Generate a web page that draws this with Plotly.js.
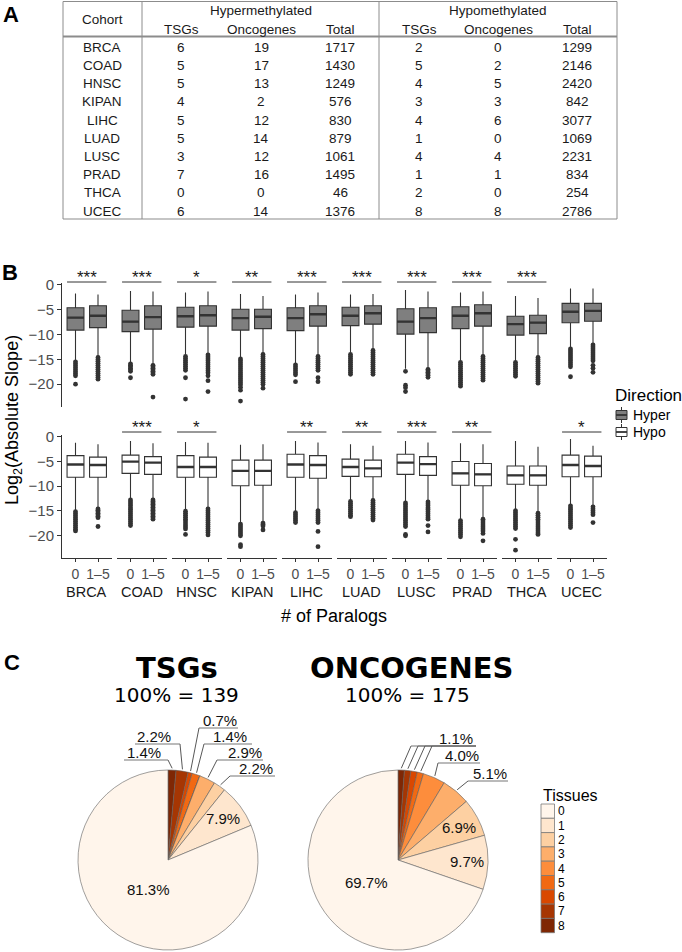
<!DOCTYPE html>
<html><head><meta charset="utf-8">
<script src="https://cdn.plot.ly/plotly-3.0.1.min.js"></script>
<style>body{margin:0;background:#fff}#chart{width:682px;height:952px}</style>
</head><body><div id="chart"></div>
<script>
// ---------- Panel A: table data ----------
const cohorts = ['BRCA','COAD','HNSC','KIPAN','LIHC','LUAD','LUSC','PRAD','THCA','UCEC'];
const hyperTSGs = [6,5,5,4,5,5,3,7,0,6];
const hyperOncogenes = [19,17,13,2,12,14,12,16,0,14];
const hyperTotal = [1717,1430,1249,576,830,879,1061,1495,46,1376];
const hypoTSGs = [2,5,4,3,4,1,4,1,2,8];
const hypoOncogenes = [0,2,5,3,6,0,4,1,0,8];
const hypoTotal = [1299,2146,2420,842,3077,1069,2231,834,254,2786];

// ---------- Panel B: boxplot statistics (log2 absolute slope) ----------
const groupLabels = ['0','1–5'];
const hyper0Upper  = [-1.7,-1.2,-1.5,-1.8,-1.9,-1.9,-1.0,-1.5,-2.2,-0.7];
const hyper0Q3     = [-4.6,-5.1,-4.5,-4.9,-4.6,-4.5,-4.8,-4.4,-6.3,-3.7];
const hyper0Median = [-6.6,-7.4,-6.3,-6.7,-6.7,-6.2,-7.4,-6.2,-7.9,-5.4];
const hyper0Q1     = [-9.1,-9.4,-8.5,-9.1,-9.2,-8.2,-9.9,-8.8,-10.1,-7.6];
const hyper0Lower  = [-15.2,-15.6,-14.0,-14.7,-15.8,-13.6,-16.9,-15.4,-15.4,-12.7];
const hyper15Upper  = [-1.9,-1.3,-1.3,-2.2,-1.5,-1.8,-1.3,-1.3,-2.6,-0.7];
const hyper15Q3     = [-4.2,-4.2,-4.2,-4.9,-4.2,-4.2,-4.6,-4.0,-6.1,-3.7];
const hyper15Median = [-6.2,-6.5,-6.1,-6.4,-5.9,-5.7,-6.7,-5.7,-7.6,-5.2];
const hyper15Q1     = [-8.6,-8.9,-8.3,-8.8,-8.3,-7.9,-9.6,-8.3,-9.8,-7.3];
const hyper15Lower  = [-14.4,-16.0,-13.8,-13.8,-14.1,-12.9,-16.8,-14.1,-14.3,-11.8];
const hypo0Upper  = [-1.2,-0.8,-1.0,-1.6,-0.8,-1.5,-0.8,-1.3,-0.8,-0.4];
const hypo0Q3     = [-3.8,-3.7,-3.8,-4.7,-3.5,-4.5,-3.5,-5.0,-5.9,-3.7];
const hypo0Median = [-5.6,-5.0,-6.1,-6.9,-5.6,-6.1,-5.2,-7.4,-7.8,-5.7];
const hypo0Q1     = [-8.2,-7.4,-8.2,-9.9,-8.2,-8.0,-7.6,-9.8,-9.6,-8.1];
const hypo0Lower  = [-14.9,-12.5,-14.9,-17.4,-15.2,-12.9,-13.2,-16.7,-14.7,-13.7];
const hypo15Upper  = [-1.5,-1.3,-1.2,-1.5,-1.1,-1.8,-1.1,-1.5,-2.0,-1.8];
const hypo15Q3     = [-4.1,-4.0,-4.1,-4.7,-3.8,-4.7,-4.0,-5.4,-5.9,-3.9];
const hypo15Median = [-5.7,-5.2,-6.1,-6.9,-5.7,-6.4,-5.5,-7.6,-7.8,-5.9];
const hypo15Q1     = [-8.2,-7.6,-8.2,-9.8,-8.4,-8.1,-7.8,-9.9,-9.8,-8.1];
const hypo15Lower  = [-14.4,-12.5,-14.4,-17.4,-14.9,-12.7,-13.0,-16.5,-15.2,-13.9];

const hyper0Outliers = [
  [-15.5,-15.9,-16.3,-16.7,-17.1,-17.5,-17.9,-18.3,-20.0],
  [-15.9,-16.2,-16.5,-16.8,-17.1,-17.4,-18.7],
  [-14.4,-14.8,-15.2,-15.6,-16.0,-16.4,-16.8,-17.2,-18.7,-23.0],
  [-14.9,-15.3,-15.7,-16.1,-16.5,-16.9,-17.3,-17.7,-18.1,-18.5,-18.9,-19.3,-19.7,-20.1,-20.6,-21.2,-23.4],
  [-16.1,-16.5,-16.9,-17.3,-17.7,-18.1,-19.5],
  [-14.0,-14.4,-14.8,-15.2,-15.6,-16.0,-16.4,-16.8,-17.2,-17.6,-18.0],
  [-17.4,-20.2,-20.7,-21.5],
  [-15.6,-16.0,-16.4,-16.8,-17.2,-17.6,-18.0,-18.4,-18.8,-19.2,-19.6,-20.0,-20.4],
  [-15.6,-16.0,-16.4,-16.8,-17.2,-17.6,-18.0,-18.4],
  [-12.9,-13.3,-13.7,-14.1,-14.5,-14.9,-15.3,-15.7,-16.1,-16.5,-18.5]
];
const hyper15Outliers = [
  [-14.6,-15.0,-15.4,-15.8,-16.2,-16.6,-17.0,-17.4,-17.8,-18.2,-18.6,-19.0],
  [-16.2,-16.5,-16.8,-17.1,-17.4,-17.7,-18.0,-22.6],
  [-14.1,-14.5,-14.9,-15.3,-15.7,-16.1,-16.5,-16.9,-17.3,-17.7,-18.3,-19.3,-21.5],
  [-14.0,-14.4,-14.8,-15.2,-15.6,-16.0,-16.4,-16.8,-17.2,-17.6,-18.0,-18.4,-18.8,-19.2,-19.6,-20.0,-20.8],
  [-14.4,-14.8,-15.2,-15.6,-16.0,-16.4,-16.8,-17.2,-18.7,-19.5],
  [-13.2,-13.6,-14.0,-14.4,-14.8,-15.2,-15.6,-16.0,-16.4,-16.8,-17.2,-17.6,-18.0],
  [-17.0,-17.3,-17.6,-17.9,-18.2,-18.6],
  [-14.4,-14.8,-15.2,-15.6,-16.0,-16.4,-16.8,-17.2,-17.6,-18.0,-18.4,-18.8,-19.2],
  [-14.6,-15.0,-15.4,-15.8,-16.2,-16.6,-17.0,-17.4,-17.8,-18.2,-18.6,-19.0,-19.4,-19.8],
  [-12.1,-12.5,-12.9,-13.3,-13.7,-14.1,-14.5,-14.9,-15.3,-16.2,-16.8,-17.6]
];
const hypo0Outliers = [
  [-15.2,-15.6,-16.0,-16.4,-16.8,-17.2,-17.6,-18.0,-18.4,-18.8,-19.1],
  [-12.8,-13.2,-13.6,-14.0,-14.4,-14.8,-15.2,-15.6,-16.0,-16.4,-16.8,-17.2,-17.6,-18.0],
  [-15.1,-15.5,-15.9,-16.3,-16.7,-17.1,-17.5,-17.9,-18.3,-18.7,-19.8],
  [-17.7,-18.1,-18.5,-18.9,-19.3,-19.7,-20.1,-21.9,-22.3],
  [-15.4,-15.8,-16.2,-16.6,-17.0,-17.4],
  [-13.1,-13.5,-13.9,-14.3,-14.7,-15.1,-15.5,-15.9,-16.2],
  [-13.4,-13.8,-14.2,-14.6,-15.0,-15.4,-15.8,-16.2,-16.6,-17.0,-17.4,-17.8,-18.2,-19.8,-20.1],
  [-17.0,-17.4,-17.8,-18.2,-18.6,-19.0,-19.4,-19.8,-20.3],
  [-15.0,-15.4,-15.8,-16.2,-16.6,-17.0,-17.4,-17.8,-18.2,-18.6,-20.8,-23.0],
  [-14.0,-14.4,-14.8,-15.2,-15.6,-16.0,-16.4,-16.8,-17.2,-17.6,-18.0,-18.4]
];
const hypo15Outliers = [
  [-14.6,-14.9,-15.2,-15.5,-15.8,-16.1,-16.4,-18.2],
  [-12.8,-13.1,-13.4,-13.7,-14.0,-14.3,-14.6,-14.9,-15.2,-15.5,-15.8,-16.1,-16.4,-16.7],
  [-14.6,-15.0,-15.4,-15.8,-16.2,-16.6,-17.0,-17.4,-17.8,-18.2,-18.6,-19.0,-19.4,-19.9],
  [-17.5,-17.8,-18.1,-18.9],
  [-15.0,-15.4,-15.8,-16.2,-16.6,-17.0,-17.4,-19.2,-22.3],
  [-12.9,-13.3,-13.7,-14.1,-14.5,-14.9,-15.3,-15.7,-16.1,-16.5,-16.9],
  [-13.2,-13.6,-14.0,-14.4,-14.8,-15.2,-15.6,-16.0,-16.4,-16.7,-18.0,-19.3],
  [-16.7,-17.1,-17.5,-17.9,-18.3,-18.7,-19.1,-19.6,-21.1],
  [-15.5,-15.9,-16.3,-16.7,-17.1,-17.5,-17.9,-18.3,-18.7,-19.1,-19.5,-19.8],
  [-14.2,-14.6,-15.0,-15.4,-15.8,-17.4]
];
const hyperSig = ['***','***','*','**','***','***','***','***','***',''];
const hypoSig  = ['','***','*','','**','**','***','**','','*'];
const yTickVals = [0,-5,-10,-15,-20];
const yTickText = ['0','−5','−10','−15','−20'];

// ---------- Panel C: pie data ----------
const tissueLevels = ['0','1','2','3','4','5','6','7','8'];
const tissueColors = ['#FFF5EB','#FEE6CE','#FDD0A2','#FDAE6B','#FD8D3C','#F16913','#D94801','#A63603','#7F2704'];
const tsgCounts = [113,11,3,4,0,2,1,3,2];
const oncCounts = [122,17,12,9,7,2,2,2,2];

// ---------- helpers ----------
const W = 682, H = 952;
const X = p => p / W, Y = p => 1 - p / H;
const FONT = 'Liberation Sans, Arial, Helvetica, sans-serif';
const DJ = 'DejaVu Sans, Verdana, sans-serif';
const traces = [];
const annotations = [];
const shapes = [];
const layout = {
  width: W, height: H, margin: {l:0, r:0, t:0, b:0},
  paper_bgcolor: '#ffffff', plot_bgcolor: 'rgba(0,0,0,0)',
  showlegend: false, font: {family: FONT, color: '#1a1a1a'},
  annotations, shapes
};
function txt(t, x, y, size, opts) {
  annotations.push(Object.assign({text: t, x: X(x), y: Y(y), xref: 'paper', yref: 'paper',
    showarrow: false, xanchor: 'center', yanchor: 'middle',
    font: {family: FONT, size: size, color: '#1a1a1a'}}, opts || {}));
}
function line(x0, y0, x1, y1, color, width) {
  shapes.push({type: 'line', xref: 'paper', yref: 'paper', x0: X(x0), y0: Y(y0), x1: X(x1), y1: Y(y1),
    line: {color: color, width: width}});
}
function rect(x0, y0, x1, y1, fill, color, width) {
  shapes.push({type: 'rect', xref: 'paper', yref: 'paper', x0: X(x0), y0: Y(y0), x1: X(x1), y1: Y(y1),
    fillcolor: fill, line: {color: color, width: width}});
}

// ---------- Panel A ----------
txt('<b>A</b>', 11, 0, 22, {yanchor: 'top', font: {family: FONT, size: 22, color: '#000'}});
const tb = {left: 63, c1: 142, c2: 379, right: 617, top: 1.5, head: 36.5, bottom: 219};
const tLine = '#8c8c8c';
line(tb.left, tb.top, tb.right, tb.top, tLine, 1);
line(tb.left, tb.head, tb.right, tb.head, tLine, 1.8);
line(tb.left, tb.bottom, tb.right, tb.bottom, tLine, 1.2);
[tb.left, tb.c1, tb.c2, tb.right].forEach(x => line(x, tb.top, x, tb.bottom, tLine, 1));
const tFont = 13.5;
txt('Cohort', 102, 19, tFont);
txt('Hypermethylated', 261, 10.5, tFont);
txt('Hypomethylated', 498, 10.5, tFont);
const colX = [181, 261, 340, 419, 498, 577];
['TSGs','Oncogenes','Total','TSGs','Oncogenes','Total'].forEach((h, i) => txt(h, colX[i], 29, tFont));
const tableCols = [hyperTSGs, hyperOncogenes, hyperTotal, hypoTSGs, hypoOncogenes, hypoTotal];
cohorts.forEach((c, r) => {
  const y = 47 + 18.25 * r;
  txt(c, 102, y, tFont);
  tableCols.forEach((col, i) => txt(String(col[r]), colX[i], y, tFont));
});

// ---------- Panel B ----------
txt('<b>B</b>', 10, 272, 22, {font: {family: FONT, size: 22, color: '#000'}});
const colLeft = 62, colPitch = 55, colWidth = 49.5;
const rowsPx = [{top: 283, bottom: 407, starY: 277, barY: 282}, {top: 435, bottom: 558, starY: 428, barY: 432}];
const directions = [
  {fill: '#7f7f7f', sig: hyperSig, groups: [
    [hyper0Lower, hyper0Q1, hyper0Median, hyper0Q3, hyper0Upper, hyper0Outliers],
    [hyper15Lower, hyper15Q1, hyper15Median, hyper15Q3, hyper15Upper, hyper15Outliers]]},
  {fill: '#ffffff', sig: hypoSig, groups: [
    [hypo0Lower, hypo0Q1, hypo0Median, hypo0Q3, hypo0Upper, hypo0Outliers],
    [hypo15Lower, hypo15Q1, hypo15Median, hypo15Q3, hypo15Upper, hypo15Outliers]]}
];
const boxW = 0.75;
directions.forEach((d, r) => {
  cohorts.forEach((c, ci) => {
    const k = r * 10 + ci + 1;
    const xa = 'x' + (k > 1 ? k : ''), ya = 'y' + (k > 1 ? k : '');
    const g = d.groups;
    traces.push({type: 'box', xaxis: xa, yaxis: ya, x: [0, 1],
      lowerfence: [g[0][0][ci], g[1][0][ci]], q1: [g[0][1][ci], g[1][1][ci]],
      median: [g[0][2][ci], g[1][2][ci]], q3: [g[0][3][ci], g[1][3][ci]],
      upperfence: [g[0][4][ci], g[1][4][ci]],
      width: boxW, whiskerwidth: 0, boxpoints: false, fillcolor: d.fill,
      line: {color: '#333333', width: 1.1}, hoverinfo: 'skip'});
    const m0 = g[0][2][ci], m1 = g[1][2][ci];
    traces.push({type: 'scatter', mode: 'lines', xaxis: xa, yaxis: ya,
      x: [-boxW/2, boxW/2, null, 1 - boxW/2, 1 + boxW/2], y: [m0, m0, null, m1, m1],
      line: {color: '#333333', width: 2.3}, hoverinfo: 'skip'});
    const ox = [], oy = [];
    [0, 1].forEach(gi => g[gi][5][ci].forEach(v => { ox.push(gi); oy.push(v); }));
    traces.push({type: 'scatter', mode: 'markers', xaxis: xa, yaxis: ya, x: ox, y: oy,
      marker: {color: '#333333', size: 4.8}, hoverinfo: 'skip', cliponaxis: false});
    const left = colLeft + colPitch * ci;
    layout['xaxis' + (k > 1 ? k : '')] = {
      domain: [X(left), X(left + colWidth)], range: [-0.6, 1.6], anchor: ya,
      showgrid: false, zeroline: false, fixedrange: true,
      showline: r === 1, linecolor: '#333333', linewidth: 1,
      ticks: r === 1 ? 'outside' : '', ticklen: 3, tickcolor: '#333333', tickwidth: 1,
      tickvals: [0, 1], ticktext: groupLabels, showticklabels: r === 1,
      tickfont: {family: FONT, size: 14, color: '#4d4d4d'}
    };
    layout['yaxis' + (k > 1 ? k : '')] = {
      domain: [Y(rowsPx[r].bottom), Y(rowsPx[r].top)], range: [-24.6, 0.4], anchor: xa,
      showgrid: false, zeroline: false, fixedrange: true,
      showline: ci === 0, linecolor: '#333333', linewidth: 1,
      ticks: ci === 0 ? 'outside' : '', ticklen: 4, tickcolor: '#333333', tickwidth: 1,
      tickvals: yTickVals, ticktext: yTickText, showticklabels: ci === 0,
      tickfont: {family: FONT, size: 15, color: '#4d4d4d'}
    };
    if (d.sig[ci]) {
      shapes.push({type: 'line', xref: xa, yref: 'paper', x0: -boxW/2, x1: 1 + boxW/2,
        y0: Y(rowsPx[r].barY), y1: Y(rowsPx[r].barY), line: {color: '#333333', width: 1}});
      annotations.push({text: d.sig[ci], xref: xa, yref: 'paper', x: 0.5, y: Y(rowsPx[r].starY),
        showarrow: false, xanchor: 'center', yanchor: 'middle',
        font: {family: FONT, size: 17, color: '#1a1a1a'}});
    }
    if (r === 1) txt(c, left + colWidth / 2, 592, 14.5);
  });
});
txt('# of Paralogs', 334, 616, 18, {font: {family: FONT, size: 18, color: '#000'}});
txt('Log<sub>2</sub>(Absolute Slope)', 13, 420, 18, {textangle: -90, font: {family: FONT, size: 18, color: '#000'}});
// Direction legend
txt('Direction', 613, 395, 17, {xanchor: 'left', font: {family: FONT, size: 17, color: '#000'}});
[['Hyper', '#7f7f7f', 415], ['Hypo', '#ffffff', 432]].forEach(([lab, fill, cy]) => {
  line(621.5, cy - 8, 621.5, cy + 8, '#333333', 1);
  rect(616, cy - 4.5, 627, cy + 4.5, fill, '#333333', 1);
  line(616, cy, 627, cy, '#333333', 1.8);
  txt(lab, 631, cy, 14, {xanchor: 'left', font: {family: FONT, size: 14, color: '#000'}});
});

// ---------- Panel C ----------
txt('<b>C</b>', 12, 662, 22, {font: {family: FONT, size: 22, color: '#000'}});
const R = 90;
const pies = [
  {counts: tsgCounts, center: [168, 860], title: 'TSGs', titleX: 177, subX: 176,
   inner: [[1, 0.77], [0, 0.40]],
   outside: [
     {level: 8, tx: 144, ly: 760, x0: 124, x1: 168, side: 'L'},
     {level: 7, tx: 154, ly: 744, x0: 135, x1: 180, side: 'L'},
     {level: 6, tx: 220, ly: 728, x0: 199, x1: 238, side: 'R'},
     {level: 5, tx: 230, ly: 744, x0: 204, x1: 252, side: 'R'},
     {level: 3, tx: 245, ly: 760, x0: 217, x1: 263, side: 'R'},
     {level: 2, tx: 256, ly: 776, x0: 230, x1: 275, side: 'R'}]},
  {counts: oncCounts, center: [398, 860], title: 'ONCOGENES', titleX: 411, subX: 407,
   inner: [[2, 0.77], [1, 0.77], [0, 0.43]],
   outside: [
     {level: 8, tx: 456, ly: 746, x0: 411, x1: 476, side: 'R'},
     {level: 7, tx: 456, ly: 746, x0: 418, x1: 476, side: 'R'},
     {level: 6, tx: 456, ly: 746, x0: 425, x1: 476, side: 'R'},
     {level: 5, tx: 456, ly: 746, x0: 432, x1: 476, side: 'R'},
     {level: 4, tx: 462, ly: 763, x0: 438, x1: 480, side: 'R'},
     {level: 3, tx: 490, ly: 781, x0: 468, x1: 508, side: 'R'}]}
];
const order = [8, 7, 6, 5, 4, 3, 2, 1, 0];
pies.forEach(p => {
  const [cx, cy] = p.center;
  traces.push({type: 'pie', values: order.map(i => p.counts[i]), labels: order.map(i => tissueLevels[i]),
    marker: {colors: order.map(i => tissueColors[i]), line: {color: '#5f5f5f', width: 0.6}},
    sort: false, direction: 'clockwise', rotation: 0, textinfo: 'none', hoverinfo: 'skip',
    domain: {x: [X(cx - R), X(cx + R)], y: [Y(cy + R), Y(cy - R)]}});
  const total = p.counts.reduce((a, b) => a + b, 0);
  const mid = {};
  let cum = 0;
  order.forEach(i => { mid[i] = 2 * Math.PI * (cum + p.counts[i] / 2) / total; cum += p.counts[i]; });
  const pt = (i, f) => [cx + f * R * Math.sin(mid[i]), cy - f * R * Math.cos(mid[i])];
  const pct = i => (100 * p.counts[i] / total).toFixed(1) + '%';
  txt('<b>' + p.title + '</b>', p.titleX, 668, 29, {font: {family: DJ, size: 29, color: '#000'}});
  txt('100% = ' + total, p.subX, 695, 20, {font: {family: DJ, size: 20, color: '#000'}});
  p.inner.forEach(([i, f]) => { const [x, y] = pt(i, f); txt(pct(i), x, y, 15, {font: {family: FONT, size: 15, color: '#111'}}); });
  const drawn = new Set();
  p.outside.forEach(o => {
    const [ex, ey] = pt(o.level, 1.02);
    const lx = o.side === 'L' ? o.x1 : o.x0;
    line(ex, ey, lx, o.ly, '#444444', 0.9);
    line(o.x0, o.ly, o.x1, o.ly, '#777777', 1.2);
    const key = pct(o.level) + '@' + o.tx + ',' + o.ly;
    if (!drawn.has(key)) {
      drawn.add(key);
      txt(pct(o.level), o.tx, o.ly - 8, 15, {font: {family: FONT, size: 15, color: '#111'}});
    }
  });
});
// Tissues legend
txt('Tissues', 541, 795, 16, {xanchor: 'left', font: {family: FONT, size: 16, color: '#000'}});
tissueLevels.forEach((lv, i) => {
  const y0 = 804 + 14.3 * i;
  rect(541, y0, 554.5, y0 + 14.3, tissueColors[i], '#7a7a7a', 0.8);
  txt(lv, 557, y0 + 7.3, 12, {xanchor: 'left', borderpad: 0, font: {family: FONT, size: 12, color: '#000'}});
});

Plotly.newPlot('chart', traces, layout, {displayModeBar: false, staticPlot: true});
</script>
</body></html>
